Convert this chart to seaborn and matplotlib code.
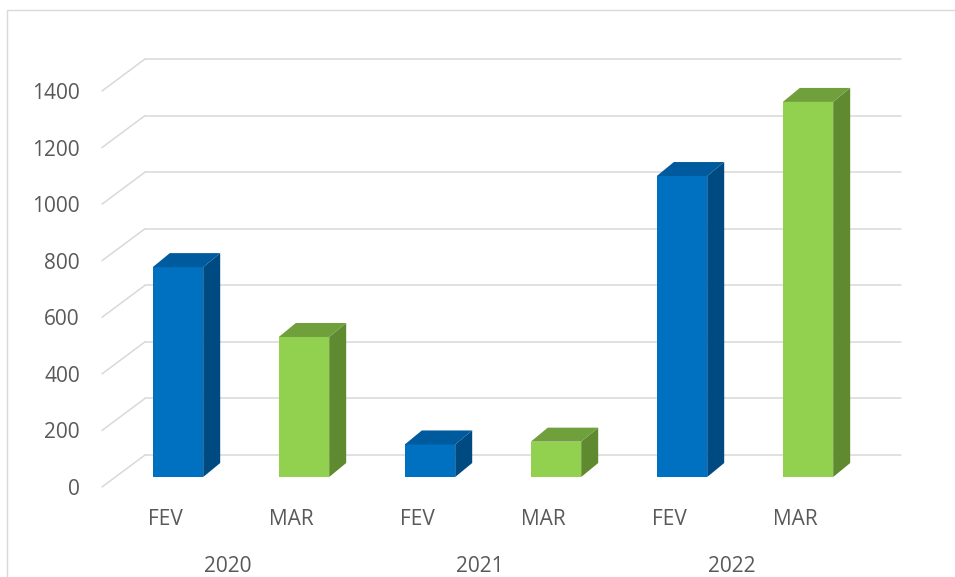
import pandas as pd
import seaborn as sns
import matplotlib.pyplot as plt
from matplotlib import transforms
from matplotlib.patches import Polygon, Rectangle, ConnectionPatch

years = ["2020", "2020", "2021", "2021", "2022", "2022"]
months = ["FEV", "MAR", "FEV", "MAR", "FEV", "MAR"]
values = [742, 495, 115, 125, 1064, 1326]
yticks = [0, 200, 400, 600, 800, 1000, 1200, 1400]

front_col = {"FEV": "#0070C0", "MAR": "#92D050"}
top_col = {"FEV": "#005A9E", "MAR": "#70A03C"}
side_col = {"FEV": "#004A82", "MAR": "#5F8A30"}
grid_col = "#d9d9d9"
text_col = "#595959"

df = pd.DataFrame({"pos": range(len(values)), "month": months,
                   "year": years, "value": values})

sns.set_theme(style="white")
plt.rcParams["font.family"] = ["Open Sans", "DejaVu Sans"]

fig = plt.figure(figsize=(9.55, 5.77), dpi=100)
ax = fig.add_axes([102 / 955, 90 / 577, 756 / 955, 396 / 577])

# depth planes of the fake 3D box (pixel offsets from the floor front edge)
bar_front = transforms.offset_copy(ax.transData, fig=fig, x=13, y=10, units="dots")
bar_back = transforms.offset_copy(ax.transData, fig=fig, x=30, y=24, units="dots")
wall = transforms.offset_copy(ax.transData, fig=fig, x=43, y=32, units="dots")

sns.barplot(data=df, x="pos", y="value", hue="month", palette=front_col,
            dodge=False, width=0.4, saturation=1, legend=False, ax=ax)
bars = [p for p in ax.patches if isinstance(p, Rectangle)]
ax.set_xlim(-0.5, 5.5)
ax.set_ylim(0, 1400)

# back wall gridlines + floor diagonals
for t in yticks:
    ax.plot([-0.5, 5.5], [t, t], transform=wall, color=grid_col, lw=1.1,
            zorder=1, clip_on=False)
    con = ConnectionPatch(xyA=(-0.5, t), coordsA=ax.transData,
                          xyB=(-0.5, t), coordsB=wall,
                          color=grid_col, lw=1.1, zorder=1)
    ax.add_artist(con)

inv = ax.transData.inverted()
for patch in bars:
    x0, w, h = patch.get_x(), patch.get_width(), patch.get_height()
    m = months[int(round(x0 + w / 2))]
    patch.set_transform(bar_front)
    patch.set_zorder(3)
    patch.set_linewidth(0)
    side = [bar_front.transform((x0 + w, 0)), bar_front.transform((x0 + w, h)),
            bar_back.transform((x0 + w, h)), bar_back.transform((x0 + w, 0))]
    top = [bar_front.transform((x0, h)), bar_front.transform((x0 + w, h)),
           bar_back.transform((x0 + w, h)), bar_back.transform((x0, h))]
    ax.add_patch(Polygon(inv.transform(side), closed=True, fc=side_col[m],
                         lw=0, zorder=3, clip_on=False))
    ax.add_patch(Polygon(inv.transform(top), closed=True, fc=top_col[m],
                         lw=0, zorder=3, clip_on=False))

ax.set_xlabel("")
ax.set_ylabel("")
ax.set_yticks(yticks)
ax.set_xticks(df["pos"])
ax.set_xticklabels(months)
ax.tick_params(axis="y", length=0, pad=16, labelsize=15, labelcolor=text_col)
ax.tick_params(axis="x", length=0, pad=16, labelsize=15, labelcolor=text_col)
for s in ax.spines.values():
    s.set_visible(False)
ax.grid(False)

# year labels under the month pairs
trans = transforms.blended_transform_factory(ax.transData, ax.transAxes)
for yr, p in df.groupby("year")["pos"].mean().items():
    ax.text(p, -0.2, yr, transform=trans, ha="center", va="center",
            fontsize=15, color=text_col)

fig.add_artist(Rectangle((7 / 955, -0.05), 1.1, 1 - 10 / 577 + 0.05,
                         transform=fig.transFigure, fill=False,
                         ec=grid_col, lw=1))

fig.savefig("out.png", dpi=100)
